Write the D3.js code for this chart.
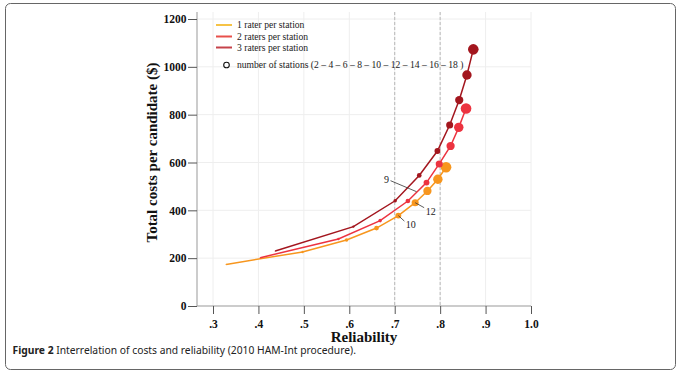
<!DOCTYPE html>
<html>
<head>
<meta charset="utf-8">
<script src="https://cdn.jsdelivr.net/npm/d3@7"></script>
<style>
  body { margin: 0; background: #fff; }
  svg { display: block; }
</style>
</head>
<body>
<svg id="chart" width="683" height="375"></svg>
<script>
// number of stations per point
const stations = [2, 4, 6, 8, 10, 12, 14, 16, 18];

// 1 rater per station
const rel1 = [0.329, 0.497, 0.594, 0.660, 0.708, 0.745, 0.772, 0.795, 0.813];
const cost1 = [174, 226, 276, 326, 378, 432, 481, 530, 580];
// 2 raters per station
const rel2 = [0.404, 0.576, 0.668, 0.729, 0.770, 0.798, 0.823, 0.841, 0.857];
const cost2 = [202, 280, 357, 439, 516, 594, 669, 747, 826];
// 3 raters per station
const rel3 = [0.437, 0.609, 0.701, 0.754, 0.794, 0.821, 0.842, 0.859, 0.873];
const cost3 = [230, 332, 440, 546, 648, 757, 861, 966, 1073];

const seriesNames = ["1 rater per station", "2 raters per station", "3 raters per station"];
const lineColors = ["#f7961e", "#ec3340", "#a3161e"];
const legendColors = ["#f6c346", "#e8504b", "#c5424a"];

const xTicks = [0.3, 0.4, 0.5, 0.6, 0.7, 0.8, 0.9, 1.0];
const yTicks = [0, 200, 400, 600, 800, 1000, 1200];
const refLines = [0.7, 0.8];

// annotations: label, reliability, cost of the point they mark
const notes = [
  { label: "9", r: 0.748, c: 478, dx: -26, dy: -11 },
  { label: "12", r: 0.745, c: 432, dx: 9, dy: 5 },
  { label: "10", r: 0.708, c: 378, dx: 6, dy: 5.5 }
];

const svg = d3.select("#chart");
const serif = "'Liberation Serif', 'Times New Roman', serif";

// figure frame
svg.append("rect")
  .attr("x", 5.5).attr("y", 3.5)
  .attr("width", 670).attr("height", 366)
  .attr("rx", 5)
  .attr("fill", "none")
  .attr("stroke", "#666")
  .attr("stroke-width", 1);

const plot = { left: 197, right: 531, top: 12, bottom: 306 };

const x = d3.scaleLinear().domain([0.3, 1.0]).range([213, 531]);
const y = d3.scaleLinear().domain([0, 1200]).range([306, 19]);

// grid
const grid = svg.append("g");
grid.selectAll(".gx").data(xTicks).enter().append("line")
  .attr("x1", d => x(d)).attr("x2", d => x(d))
  .attr("y1", plot.top).attr("y2", plot.bottom)
  .attr("stroke", "#eeeeee").attr("stroke-width", 1);
grid.selectAll(".gy").data(yTicks.slice(1)).enter().append("line")
  .attr("x1", plot.left).attr("x2", plot.right)
  .attr("y1", d => y(d)).attr("y2", d => y(d))
  .attr("stroke", "#eeeeee").attr("stroke-width", 1);
grid.selectAll(".ref").data(refLines).enter().append("line")
  .attr("x1", d => x(d)).attr("x2", d => x(d))
  .attr("y1", plot.top).attr("y2", plot.bottom)
  .attr("stroke", "#a8a8a8").attr("stroke-width", 0.8)
  .attr("stroke-dasharray", "3,2");

// axes
const fmtX = d => d3.format(".1f")(d).replace(/^0/, "");
const xAxis = svg.append("g")
  .attr("transform", `translate(0,${plot.bottom})`)
  .call(d3.axisBottom(x).tickValues(xTicks).tickFormat(fmtX).tickSize(8).tickSizeOuter(0));
xAxis.select(".domain").attr("d", `M${plot.left},0H${plot.right}`).attr("stroke", "#999");
xAxis.selectAll(".tick line").attr("stroke", "#555");
xAxis.selectAll("text")
  .attr("font-family", serif).attr("font-size", 11.5).attr("font-weight", "bold")
  .attr("fill", "#111").attr("dy", "0.95em");

const yAxis = svg.append("g")
  .attr("transform", `translate(${plot.left},0)`)
  .call(d3.axisLeft(y).tickValues(yTicks).tickFormat(d3.format("d")).tickSize(9).tickSizeOuter(0));
yAxis.select(".domain").attr("d", `M0,${plot.top}V${plot.bottom}`).attr("stroke", "#999");
yAxis.selectAll(".tick line").attr("stroke", "#555");
yAxis.selectAll("text")
  .attr("font-family", serif).attr("font-size", 11.5).attr("font-weight", "bold")
  .attr("fill", "#111").attr("x", -10.5);

// axis titles
svg.append("text")
  .attr("x", (plot.left + plot.right) / 2).attr("y", 342)
  .attr("text-anchor", "middle")
  .attr("font-family", serif).attr("font-size", 15).attr("font-weight", "bold")
  .attr("fill", "#111")
  .text("Reliability");
svg.append("text")
  .attr("transform", "translate(157,152.5) rotate(-90)")
  .attr("text-anchor", "middle")
  .attr("font-family", serif).attr("font-size", 15).attr("font-weight", "bold")
  .attr("fill", "#111")
  .text("Total costs per candidate ($)");

// series
const series = [
  { rel: rel1, cost: cost1 },
  { rel: rel2, cost: cost2 },
  { rel: rel3, cost: cost3 }
].map((s, i) => ({
  name: seriesNames[i],
  color: lineColors[i],
  points: stations.map((n, j) => ({ n, r: s.rel[j], c: s.cost[j] }))
}));

const line = d3.line().x(d => x(d.r)).y(d => y(d.c));
const rScale = d3.scaleLinear().domain([0, 18]).range([0, 5.3]);

const gS = svg.append("g");
series.forEach(s => {
  gS.append("path")
    .datum(s.points)
    .attr("d", line)
    .attr("fill", "none")
    .attr("stroke", s.color)
    .attr("stroke-width", 1.5);
  gS.selectAll(null).data(s.points).enter().append("circle")
    .attr("cx", d => x(d.r)).attr("cy", d => y(d.c))
    .attr("r", d => rScale(d.n))
    .attr("fill", s.color);
});

// annotations
const gN = svg.append("g");
notes.forEach(nt => {
  const px = x(nt.r), py = y(nt.c);
  gN.append("line")
    .attr("x1", px).attr("y1", py)
    .attr("x2", px + nt.dx).attr("y2", py + nt.dy)
    .attr("stroke", "#333").attr("stroke-width", 0.8);
  const toLeft = nt.dx < 0;
  gN.append("text")
    .attr("x", px + nt.dx + (toLeft ? -1.5 : 1.5))
    .attr("y", py + nt.dy + (toLeft ? 2 : 7))
    .attr("text-anchor", toLeft ? "end" : "start")
    .attr("font-family", serif).attr("font-size", 10)
    .attr("fill", "#222")
    .text(nt.label);
});

// legend
const lg = svg.append("g");
const rows = [25, 36.5, 47.5];
seriesNames.forEach((name, i) => {
  lg.append("line")
    .attr("x1", 216).attr("x2", 232)
    .attr("y1", rows[i]).attr("y2", rows[i])
    .attr("stroke", legendColors[i]).attr("stroke-width", 2);
  lg.append("text")
    .attr("x", 237).attr("y", rows[i] + 3.2)
    .attr("font-family", serif).attr("font-size", 9.6)
    .attr("fill", "#222")
    .text(name);
});
lg.append("circle")
  .attr("cx", 226.5).attr("cy", 65).attr("r", 2.8)
  .attr("fill", "none").attr("stroke", "#111").attr("stroke-width", 1.1);
lg.append("text")
  .attr("x", 237).attr("y", 68.2)
  .attr("font-family", serif).attr("font-size", 9.6)
  .attr("fill", "#222")
  .text("number of stations (" + stations.join(" \u2013 ") + " )");

// caption
const cap = svg.append("text")
  .attr("x", 12.5).attr("y", 354)
  .attr("font-family", "'Noto Sans', 'Open Sans', sans-serif")
  .attr("font-size", 10.3)
  .attr("fill", "#222");
cap.append("tspan").attr("font-weight", "bold").text("Figure 2");
cap.append("tspan").text(" Interrelation of costs and reliability (2010 HAM-Int procedure).");
</script>
</body>
</html>
